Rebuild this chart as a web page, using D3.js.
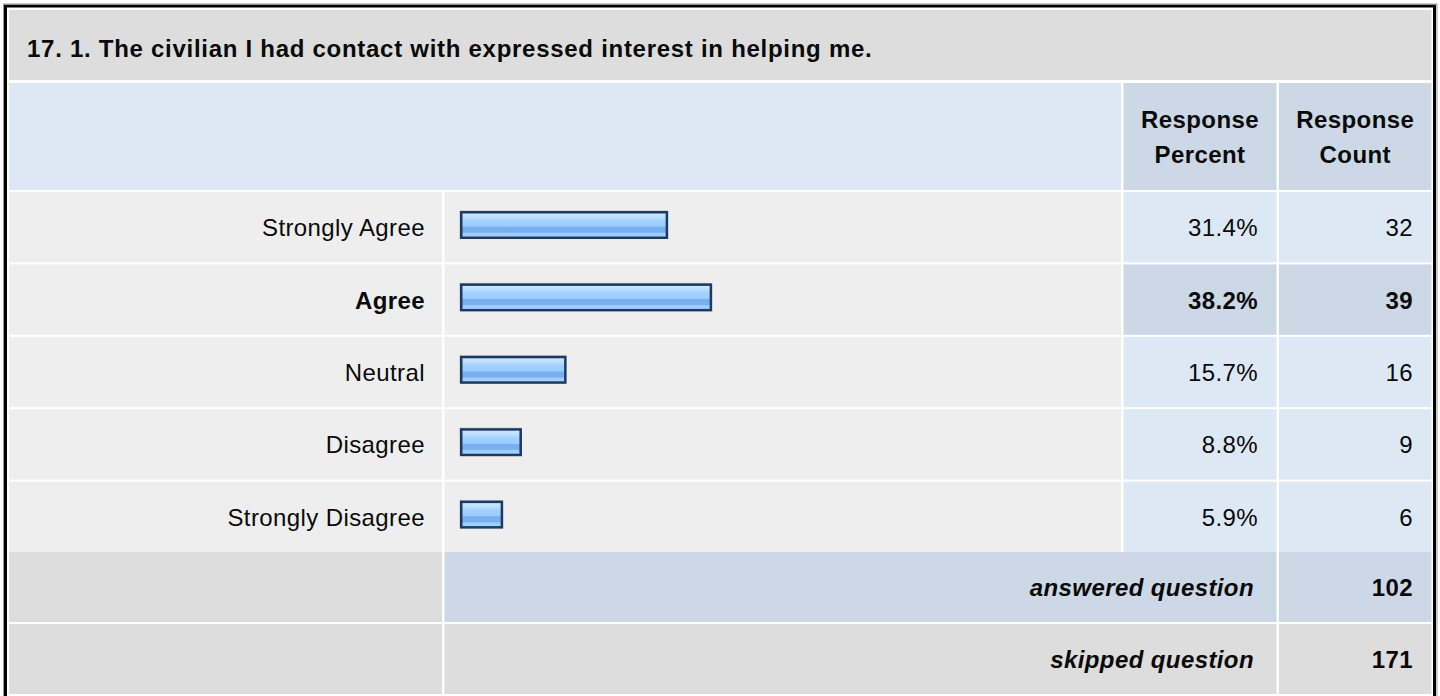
<!DOCTYPE html>
<html>
<head>
<meta charset="utf-8">
<script src="https://cdn.jsdelivr.net/npm/d3@7"></script>
<style>
  html, body { margin: 0; padding: 0; background: #ffffff; }
  svg { display: block; }
  text { font-family: "Liberation Sans", Arial, Helvetica, sans-serif; fill: #0a0a0a; letter-spacing: 0.4px; }
  text.title { letter-spacing: 0.72px; }
</style>
</head>
<body>
<svg id="chart" width="1440" height="696"></svg>
<script>
// ---- data ----
const title = "17. 1. The civilian I had contact with expressed interest in helping me.";
const categories = ["Strongly Agree", "Agree", "Neutral", "Disagree", "Strongly Disagree"];
const percents = [31.4, 38.2, 15.7, 8.8, 5.9];
const counts = [32, 39, 16, 9, 6];
const headerLabels = [["Response", "Percent"], ["Response", "Count"]];
const summaryLabels = ["answered question", "skipped question"];
const summaryValues = [102, 171];

// ---- layout ----
const svg = d3.select("#chart");
const cols = [9, 444.5, 1123.5, 1279];      // left edges
const colEnds = [442, 1121, 1276.5, 1431.5]; // right edges
const titleY = [10, 80], headY = [83, 190];
const rowTop = 192, rowPitch = 72, rowH = 70;
const fs = 24;

const C = {
  title: "#dddddd", head: "#dde8f5", headDark: "#ccd8e6",
  row: "#eeeeee", cell: "#dde8f5", cellHi: "#ccd8e6", gray: "#dddddd"
};

const hiIdx = percents.indexOf(d3.max(percents));

const y = d3.scaleBand()
  .domain(categories)
  .range([rowTop, rowTop + rowPitch * categories.length])
  .paddingInner(2 / rowPitch).paddingOuter(0).align(0);

// bar scale: percent -> pixels
const x = d3.scaleLinear().domain([0, 100]).range([0, 647]);

// defs: gradient for bars
const defs = svg.append("defs");
const grad = defs.append("linearGradient").attr("id", "barGrad")
  .attr("x1", 0).attr("y1", 0).attr("x2", 0).attr("y2", 1);
[[0, "#d2eaff"], [0.18, "#bfe0ff"], [0.3, "#a6d3ff"], [0.55, "#99ccff"], [0.58, "#7aafef"],
 [0.78, "#7aafef"], [0.82, "#99ccff"], [1, "#a9d5ff"]].forEach(([o, c]) =>
  grad.append("stop").attr("offset", o).attr("stop-color", c));

function cell(x0, x1, y0, y1, fill) {
  svg.append("rect").attr("x", x0).attr("y", y0)
    .attr("width", x1 - x0).attr("height", y1 - y0).attr("fill", fill);
}

// title row
cell(cols[0], colEnds[3], titleY[0], titleY[1], C.title);
svg.append("text").attr("class", "title").attr("x", 27).attr("y", 57)
  .attr("font-size", fs).attr("font-weight", "bold").text(title);

// header row
cell(cols[0], colEnds[1], headY[0], headY[1], C.head);
[2, 3].forEach((c, i) => {
  cell(cols[c], colEnds[c], headY[0], headY[1], C.headDark);
  const t = svg.append("text").attr("text-anchor", "middle")
    .attr("font-size", fs).attr("font-weight", "bold");
  headerLabels[i].forEach((s, k) => {
    t.append("tspan").attr("x", (cols[c] + colEnds[c]) / 2)
      .attr("y", 128 + k * 35).text(s);
  });
});

// data rows
categories.forEach((cat, i) => {
  const y0 = y(cat), y1 = y0 + y.bandwidth();
  const hi = i === hiIdx;
  cell(cols[0], colEnds[0], y0, y1, C.row);
  cell(cols[1], colEnds[1], y0, y1, C.row);
  cell(cols[2], colEnds[2], y0, y1, hi ? C.cellHi : C.cell);
  cell(cols[3], colEnds[3], y0, y1, hi ? C.cellHi : C.cell);
  const base = y0 + y.bandwidth() / 2 + 9;
  svg.append("text").attr("x", 425).attr("y", base).attr("text-anchor", "end")
    .attr("font-size", fs).attr("font-weight", hi ? "bold" : "normal").text(cat);
  svg.append("text").attr("x", 1258).attr("y", base).attr("text-anchor", "end")
    .attr("font-size", fs).attr("font-weight", hi ? "bold" : "normal")
    .text(d3.format(".1f")(percents[i]) + "%");
  svg.append("text").attr("x", 1413).attr("y", base).attr("text-anchor", "end")
    .attr("font-size", fs).attr("font-weight", hi ? "bold" : "normal").text(counts[i]);
});

// bars
const bx = 460, bh = 28;
const bars = svg.append("g").selectAll("g").data(categories).join("g");
bars.append("rect")
  .attr("x", bx - 0.5).attr("y", d => y(d) + 18.5)
  .attr("width", (d, i) => x(percents[i]) + 5).attr("height", bh)
  .attr("fill", "#8e9cb0").attr("opacity", 0.6);
bars.append("rect")
  .attr("x", bx + 1.25).attr("y", d => y(d) + 20.25)
  .attr("width", (d, i) => x(percents[i]) + 2.5).attr("height", bh - 2.5)
  .attr("fill", "url(#barGrad)").attr("stroke", "#1d3a64").attr("stroke-width", 2.5);

// summary rows
const sTop = rowTop + rowPitch * categories.length;
summaryLabels.forEach((lab, i) => {
  const y0 = sTop + i * rowPitch, y1 = y0 + rowH;
  const fill = i === 0 ? C.headDark : C.gray;
  cell(cols[0], colEnds[0], y0, y1, C.gray);
  cell(cols[1], colEnds[2], y0, y1, fill);
  cell(cols[3], colEnds[3], y0, y1, fill);
  const base = y0 + rowH / 2 + 9;
  svg.append("text").attr("x", 1254).attr("y", base).attr("text-anchor", "end")
    .attr("font-size", fs).attr("font-weight", "bold").attr("font-style", "italic").text(lab);
  svg.append("text").attr("x", 1413).attr("y", base).attr("text-anchor", "end")
    .attr("font-size", fs).attr("font-weight", "bold").text(summaryValues[i]);
});

// outer frame
svg.append("rect").attr("x", 5.5).attr("y", 6).attr("width", 1429).attr("height", 720)
  .attr("fill", "none").attr("stroke", "#000").attr("stroke-width", 3);
svg.append("rect").attr("x", 3.5).attr("y", 4).attr("width", 1433.5).attr("height", 724)
  .attr("fill", "none").attr("stroke", "#999").attr("stroke-width", 1);
</script>
</body>
</html>
